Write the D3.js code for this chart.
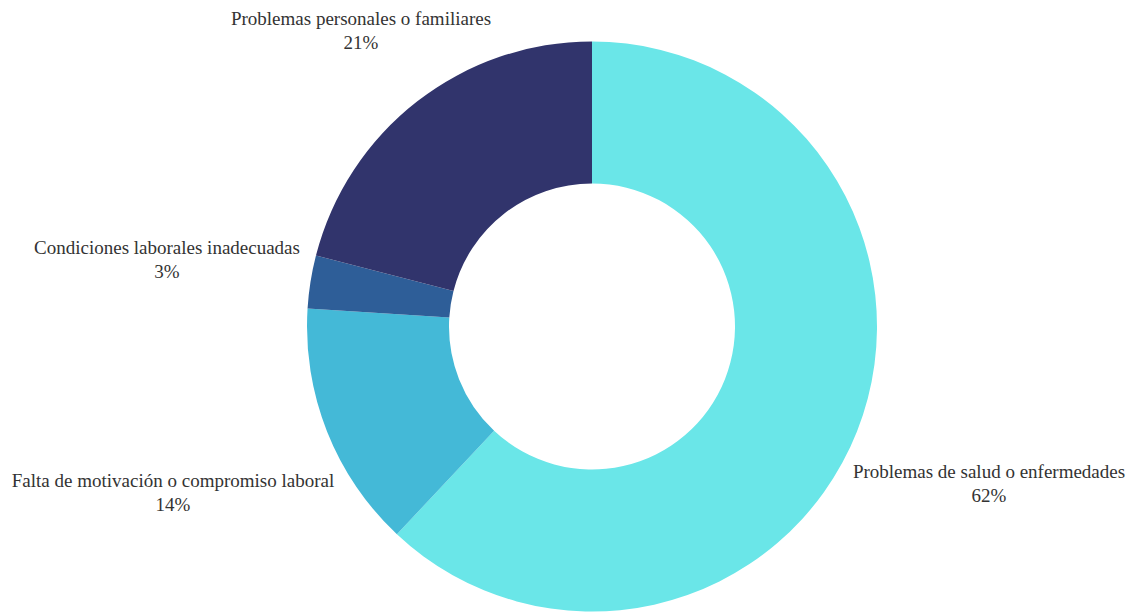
<!DOCTYPE html>
<html>
<head>
<meta charset="utf-8">
<script src="https://cdn.jsdelivr.net/npm/d3@7"></script>
<style>
  html, body { margin: 0; padding: 0; background: #fff; }
  svg { display: block; }
  .lbl { font-family: "Liberation Serif", "Times New Roman", serif; font-size: 19px; fill: #333; }
</style>
</head>
<body>
<svg id="chart" width="1130" height="612"></svg>
<script>
// Reasons for absence, share of responses (%)
const categories = [
  "Problemas de salud o enfermedades",
  "Falta de motivación o compromiso laboral",
  "Condiciones laborales inadecuadas",
  "Problemas personales o familiares"
];
const values = [62, 14, 3, 21];
const colors = ["#6ae6e8", "#44b9d7", "#2e5e98", "#31346c"];

// Centre point of each two-line label
const labelPos = [
  [989, 484],
  [173, 493],
  [167, 260],
  [361, 31]
];

const cx = 592, cy = 326.5;
const outerR = 285, innerR = 143;
const lineGap = 24;

const svg = d3.select("#chart");
const g = svg.append("g").attr("transform", `translate(${cx},${cy})`);

const data = categories.map((c, i) => ({ name: c, value: values[i], color: colors[i], pos: labelPos[i] }));

const pie = d3.pie().value(d => d.value).sort(null);
const arc = d3.arc().innerRadius(innerR).outerRadius(outerR);

g.selectAll("path")
  .data(pie(data))
  .join("path")
  .attr("d", arc)
  .attr("fill", d => d.data.color);

const labels = svg.append("g").attr("text-anchor", "middle");

data.forEach(d => {
  const [x, y] = d.pos;
  labels.append("text").attr("class", "lbl")
    .attr("x", x).attr("y", y - lineGap / 2 + 6)
    .text(d.name);
  labels.append("text").attr("class", "lbl")
    .attr("x", x).attr("y", y + lineGap / 2 + 6)
    .text(d.value + "%");
});
</script>
</body>
</html>
